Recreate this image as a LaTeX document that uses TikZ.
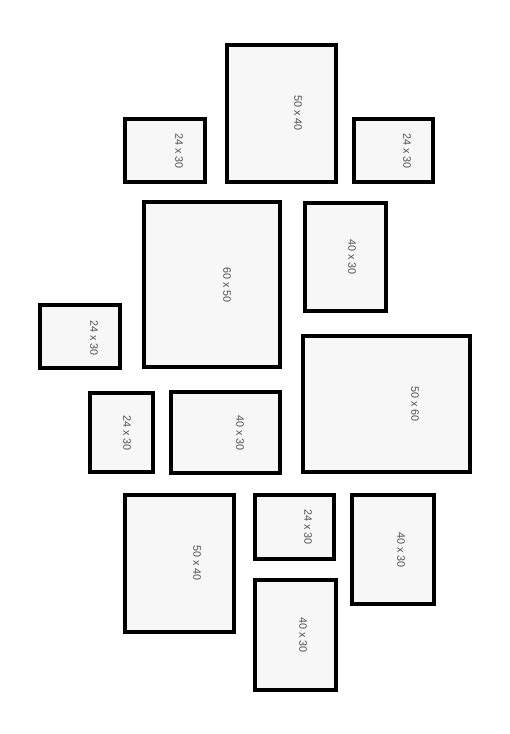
\documentclass[tikz,border=0pt]{standalone}
\usepackage{fontspec}
\setmainfont{Liberation Sans}
\definecolor{framefill}{HTML}{F7F7F7}
\definecolor{labgray}{HTML}{505050}
\tikzset{
  frame/.style={draw=black, fill=framefill, line width=3.6pt},
  lab/.style={text=labgray, font=\fontsize{10.8}{12}\selectfont, rotate=-90, inner sep=0pt}
}
% #1 name, #2 x1, #3 y1, #4 x2, #5 y2 (outer edges, px), #6 tx, #7 ty, #8 label
\newcommand\pframe[8]{%
  \draw[frame] ([xshift=1.8pt,yshift=-1.8pt]#2,#3) rectangle ([xshift=-1.8pt,yshift=1.8pt]#4,#5);
  \node[lab] (#1) at (#6,#7) {#8};
}
\begin{document}
\begin{tikzpicture}[x=1pt,y=-1pt]
\useasboundingbox[fill=white] (0,0) rectangle (510,734);
\pframe{a}{225}{43}{338}{184}{298}{113}{50 x 40}
\pframe{b}{123}{117}{207}{184}{179}{151}{24 x 30}
\pframe{c}{352}{117}{435}{184}{407}{151}{24 x 30}
\pframe{d}{142}{200}{282}{369}{227}{285}{60 x 50}
\pframe{e}{303}{201}{388}{313}{352}{257}{40 x 30}
\pframe{f}{38}{303}{122}{370}{94}{338}{24 x 30}
\pframe{g}{301}{334}{472}{474}{415}{404}{50 x 60}
\pframe{h}{88}{391}{155}{474}{127}{433}{24 x 30}
\pframe{i}{169}{390}{282}{475}{240}{433}{40 x 30}
\pframe{j}{123}{493}{236}{634}{197}{563}{50 x 40}
\pframe{k}{253}{493}{336}{561}{308}{527}{24 x 30}
\pframe{l}{350}{493}{436}{606}{401}{550}{40 x 30}
\pframe{m}{253}{578}{338}{692}{303}{635}{40 x 30}
\end{tikzpicture}
\end{document}
